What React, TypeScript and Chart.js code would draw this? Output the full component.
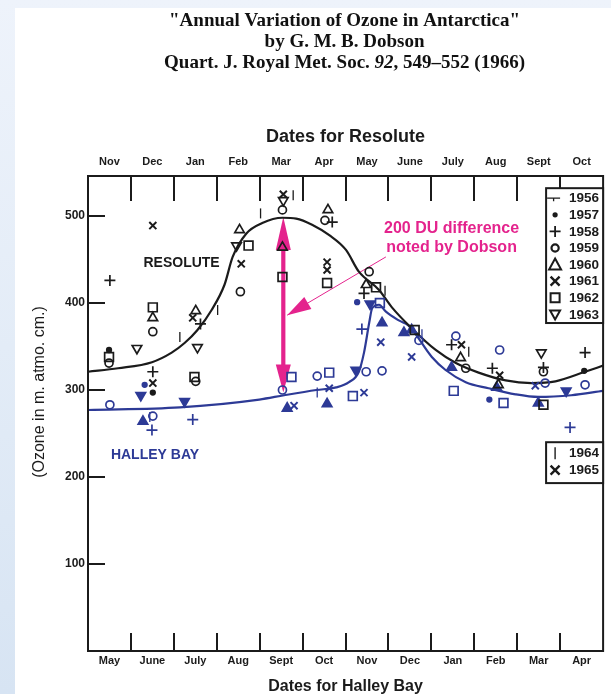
import React, { useEffect, useRef } from 'react';
import { Chart, registerables } from 'chart.js';

Chart.register(...registerables);

// ---------- axis labels ----------
const resoluteMonths = ['Nov', 'Dec', 'Jan', 'Feb', 'Mar', 'Apr', 'May', 'June', 'July', 'Aug', 'Sept', 'Oct'];
const halleyMonths = ['May', 'June', 'July', 'Aug', 'Sept', 'Oct', 'Nov', 'Dec', 'Jan', 'Feb', 'Mar', 'Apr'];
const yTickValues = [100, 200, 300, 400, 500];
const yMax = 546;
const legendYearsA = ['1956', '1957', '1958', '1959', '1960', '1961', '1962', '1963'];
const legendYearsB = ['1964', '1965'];

// ---------- smoothed mean curves (month index, ozone) ----------
const resoluteCurveX = [0, 0.7, 1.49, 1.95, 2.25, 2.55, 2.88, 3.18, 3.37, 3.69, 4.06, 4.53, 4.85, 5.22, 5.62, 6.01, 6.31, 6.78, 7.08, 7.54, 8.1, 8.57, 9.1, 9.73, 10.33, 10.89, 11.58, 12];
const resoluteCurveY = [321, 325, 332, 343, 354, 369, 392, 421, 453, 480, 492, 498, 497, 490, 478, 461, 436, 415, 395, 371, 346, 331, 320, 311, 308, 310, 321, 328];
const halleyCurveX = [0, 2.14, 3.99, 4.57, 5.32, 5.78, 6.08, 6.31, 6.43, 6.55, 6.62, 6.78, 6.94, 7.24, 7.47, 8.01, 8.33, 8.8, 9.33, 9.96, 10.49, 11.26, 12];
const halleyCurveY = [277, 280, 289, 294, 300, 303, 309, 321, 343, 377, 394, 398, 390, 380, 374, 338, 323, 309, 302, 295, 292, 294, 299];

// ---------- Resolute observations [month, ozone] ----------
const res1956: [number, number][] = [[2.14, 361], [3.02, 392], [4.02, 503], [4.78, 524], [6.92, 414], [8.87, 344]];
const res1957: [number, number][] = [[0.49, 346], [1.51, 297], [11.56, 322]];
const res1958: [number, number][] = [[0.51, 426], [1.51, 321], [2.62, 376], [5.69, 493], [6.43, 411], [8.47, 352], [9.42, 325], [10.61, 326], [11.58, 343]];
const res1959: [number, number][] = [[0.49, 331], [1.51, 367], [2.51, 310], [3.55, 413], [4.53, 507], [5.52, 495], [6.55, 436], [8.8, 325], [10.61, 321]];
const res1960: [number, number][] = [[1.51, 383], [2.51, 391], [3.53, 484], [4.53, 464], [5.59, 507], [6.48, 421], [8.68, 337], [9.56, 306]];
const res1961: [number, number][] = [[1.51, 489], [1.51, 308], [2.44, 383], [3.57, 445], [4.55, 525], [5.57, 447], [5.57, 438], [8.7, 352], [9.59, 317]];
const res1962: [number, number][] = [[0.49, 338], [1.51, 395], [2.48, 315], [3.74, 466], [4.53, 430], [5.57, 423], [6.71, 418], [7.61, 369], [10.61, 283]];
const res1963: [number, number][] = [[1.14, 348], [2.55, 349], [3.46, 466], [4.55, 518], [10.56, 343]];

// ---------- Halley Bay observations [month, ozone] ----------
const hal1957: [number, number][] = [[1.32, 306], [6.27, 401], [9.35, 289]];
const hal1958: [number, number][] = [[1.49, 254], [2.44, 266], [6.38, 370], [11.23, 257]];
const hal1959: [number, number][] = [[0.51, 283], [1.51, 270], [4.53, 300], [5.34, 316], [6.48, 321], [6.85, 322], [7.71, 357], [8.57, 362], [9.59, 346], [10.65, 308], [11.58, 306]];
const hal1960: [number, number][] = [[1.28, 264], [4.64, 279], [5.57, 284], [6.85, 377], [7.36, 366], [7.54, 369], [8.47, 326], [9.52, 303], [10.49, 285]];
const hal1962: [number, number][] = [[4.74, 315], [5.62, 320], [6.8, 400], [6.17, 293], [8.52, 299], [9.68, 285]];
const hal1963: [number, number][] = [[1.23, 294], [2.25, 287], [6.24, 323], [6.57, 399], [11.14, 299]];
const hal1964: [number, number][] = [[1.44, 269], [5.34, 297], [7.78, 364]];
const hal1965: [number, number][] = [[4.8, 282], [5.62, 302], [6.82, 355], [7.54, 338], [6.43, 297], [10.42, 305]];

// ---------- Dobson annotation (month, ozone) ----------
const dobsonArrowMonth = 4.55;
const dobsonArrowTop = 499;
const dobsonArrowBottom = 297;
const pointerFrom: [number, number] = [6.94, 453];
const pointerTo: [number, number] = [4.64, 386];

const INK = '#1b1b1b';
const BLUE = '#2d3a96';
const MAGENTA = '#e4238d';
const SANS = "'Liberation Sans', Arial, sans-serif";
const SERIF = "'Liberation Serif', 'Times New Roman', serif";

type Sym = 'bar' | 'dot' | 'plus' | 'circle' | 'tri' | 'x' | 'square' | 'invtri';

const yearSymbol: Record<string, Sym> = {
  '1956': 'bar', '1957': 'dot', '1958': 'plus', '1959': 'circle', '1960': 'tri',
  '1961': 'x', '1962': 'square', '1963': 'invtri', '1964': 'bar', '1965': 'x',
};

function pointOpts(sym: Sym, color: string, filled: boolean) {
  const base: any = { borderColor: color, pointBorderWidth: 1.7, pointBackgroundColor: 'rgba(0,0,0,0)', pointRotation: 0 };
  switch (sym) {
    case 'bar': return { ...base, pointStyle: 'line', pointRadius: 5, pointRotation: 90, pointBorderWidth: 1.3 };
    case 'dot': return { ...base, pointStyle: 'circle', pointRadius: 2.3, pointBackgroundColor: color };
    case 'plus': return { ...base, pointStyle: 'cross', pointRadius: 5.5 };
    case 'circle': return { ...base, pointStyle: 'circle', pointRadius: 4 };
    case 'tri': return { ...base, pointStyle: 'triangle', pointRadius: 5.5, pointBackgroundColor: filled ? color : 'rgba(0,0,0,0)' };
    case 'invtri': return { ...base, pointStyle: 'triangle', pointRadius: 5.5, pointRotation: 180, pointBackgroundColor: filled ? color : 'rgba(0,0,0,0)' };
    case 'x': return { ...base, pointStyle: 'crossRot', pointRadius: 5, pointBorderWidth: 2 };
    case 'square': return { ...base, pointStyle: 'rect', pointRadius: 6.2 };
  }
}

function scatterSet(label: string, pts: [number, number][], sym: Sym, color: string, filled: boolean) {
  return {
    type: 'scatter' as const,
    label,
    data: pts.map(([x, y]) => ({ x, y })),
    xAxisID: 'x',
    yAxisID: 'y',
    showLine: false,
    order: 0,
    ...pointOpts(sym, color, filled),
  };
}

function drawSymbol(ctx: CanvasRenderingContext2D, sym: Sym, x: number, y: number, color: string, legend1956 = false) {
  ctx.save();
  ctx.strokeStyle = color;
  ctx.fillStyle = color;
  ctx.lineWidth = 1.8;
  ctx.beginPath();
  switch (sym) {
    case 'bar':
      if (legend1956) {
        ctx.lineWidth = 1.3;
        ctx.moveTo(x - 8, y); ctx.lineTo(x + 5, y);
        ctx.moveTo(x - 1.5, y); ctx.lineTo(x - 1.5, y + 3);
      } else {
        ctx.lineWidth = 1.4;
        ctx.moveTo(x, y - 6); ctx.lineTo(x, y + 6);
      }
      ctx.stroke();
      break;
    case 'dot': ctx.arc(x, y, 2.6, 0, Math.PI * 2); ctx.fill(); break;
    case 'plus': ctx.moveTo(x - 5.5, y); ctx.lineTo(x + 5.5, y); ctx.moveTo(x, y - 5.5); ctx.lineTo(x, y + 5.5); ctx.stroke(); break;
    case 'circle': ctx.lineWidth = 2.2; ctx.arc(x, y, 3.6, 0, Math.PI * 2); ctx.stroke(); break;
    case 'tri': ctx.lineWidth = 2; ctx.moveTo(x, y - 6); ctx.lineTo(x + 6, y + 5); ctx.lineTo(x - 6, y + 5); ctx.closePath(); ctx.stroke(); break;
    case 'invtri': ctx.lineWidth = 2; ctx.moveTo(x - 5, y - 4); ctx.lineTo(x + 5, y - 4); ctx.lineTo(x, y + 5); ctx.closePath(); ctx.stroke(); break;
    case 'x': ctx.lineWidth = 2.4; ctx.moveTo(x - 4.5, y - 4.5); ctx.lineTo(x + 4.5, y + 4.5); ctx.moveTo(x + 4.5, y - 4.5); ctx.lineTo(x - 4.5, y + 4.5); ctx.stroke(); break;
    case 'square': ctx.lineWidth = 2; ctx.rect(x - 4.5, y - 4.5, 9, 9); ctx.stroke(); break;
  }
  ctx.restore();
}

function arrowHead(ctx: CanvasRenderingContext2D, tx: number, ty: number, fx: number, fy: number, len: number, half: number) {
  const ang = Math.atan2(ty - fy, tx - fx);
  const bx = tx - Math.cos(ang) * len;
  const by = ty - Math.sin(ang) * len;
  ctx.beginPath();
  ctx.moveTo(tx, ty);
  ctx.lineTo(bx + Math.sin(ang) * half, by - Math.cos(ang) * half);
  ctx.lineTo(bx - Math.sin(ang) * half, by + Math.cos(ang) * half);
  ctx.closePath();
  ctx.fill();
}

const decorPlugin = {
  id: 'decor',
  beforeDatasetsDraw(chart: any) {
    const { ctx, scales } = chart;
    const x = scales.x, y = scales.y;
    ctx.save();
    ctx.fillStyle = MAGENTA;
    ctx.strokeStyle = MAGENTA;
    const ax = x.getPixelForValue(dobsonArrowMonth);
    const yt = y.getPixelForValue(dobsonArrowTop);
    const yb = y.getPixelForValue(dobsonArrowBottom);
    ctx.lineWidth = 4.2;
    ctx.beginPath();
    ctx.moveTo(ax, yt + 20);
    ctx.lineTo(ax, yb - 20);
    ctx.stroke();
    arrowHead(ctx, ax, yt, ax, yb, 33, 7.5);
    arrowHead(ctx, ax, yb, ax, yt, 28, 7.5);
    const px1 = x.getPixelForValue(pointerFrom[0]), py1 = y.getPixelForValue(pointerFrom[1]);
    const px2 = x.getPixelForValue(pointerTo[0]), py2 = y.getPixelForValue(pointerTo[1]);
    ctx.lineWidth = 1;
    ctx.beginPath();
    ctx.moveTo(px1, py1);
    ctx.lineTo(px2, py2);
    ctx.stroke();
    arrowHead(ctx, px2, py2, px1, py1, 24, 7);
    ctx.restore();
  },
  afterDraw(chart: any) {
    const { ctx, chartArea: a, scales } = chart;
    const x = scales.x, y = scales.y;
    ctx.save();
    ctx.strokeStyle = INK;
    ctx.lineWidth = 2;
    ctx.strokeRect(a.left, a.top, a.right - a.left, a.bottom - a.top);
    ctx.beginPath();
    for (let m = 1; m < 12; m++) {
      const px = Math.round(x.getPixelForValue(m));
      ctx.moveTo(px, a.top);
      ctx.lineTo(px, a.top + 25);
      ctx.moveTo(px, a.bottom);
      ctx.lineTo(px, a.bottom - 18);
    }
    for (const v of yTickValues) {
      const py = Math.round(y.getPixelForValue(v));
      ctx.moveTo(a.left, py);
      ctx.lineTo(a.left + 17, py);
    }
    ctx.stroke();

    // header
    const cx = (a.left + a.right) / 2 - 1;
    ctx.fillStyle = '#111';
    ctx.textAlign = 'center';
    ctx.textBaseline = 'middle';
    const hf = `bold 19px ${SERIF}`;
    const hfi = `italic bold 19px ${SERIF}`;
    ctx.font = hf;
    ctx.fillText('"Annual Variation of Ozone in Antarctica"', cx, 13);
    ctx.fillText('by G. M. B. Dobson', cx, 34);
    const partA = 'Quart. J. Royal Met. Soc. ';
    const partB = '92';
    const partC = ', 549\u2013552 (1966)';
    ctx.font = hf;
    const wA = ctx.measureText(partA).width;
    const wC = ctx.measureText(partC).width;
    ctx.font = hfi;
    const wB = ctx.measureText(partB).width;
    const sx = cx - (wA + wB + wC) / 2;
    ctx.textAlign = 'left';
    ctx.font = hf;
    ctx.fillText(partA, sx, 55);
    ctx.font = hfi;
    ctx.fillText(partB, sx + wA, 55);
    ctx.font = hf;
    ctx.fillText(partC, sx + wA + wB, 55);

    // y axis title
    ctx.save();
    ctx.translate(25, 384);
    ctx.rotate(-Math.PI / 2);
    ctx.textAlign = 'center';
    ctx.font = `16px ${SANS}`;
    ctx.fillStyle = INK;
    ctx.fillText('(Ozone in m. atmo. cm.)', 0, 0);
    ctx.restore();

    // station labels
    ctx.textAlign = 'center';
    ctx.font = `bold 14px ${SANS}`;
    ctx.fillStyle = INK;
    ctx.fillText('RESOLUTE', x.getPixelForValue(2.18), y.getPixelForValue(446));
    ctx.fillStyle = BLUE;
    ctx.fillText('HALLEY BAY', x.getPixelForValue(1.56), y.getPixelForValue(225));
    ctx.fillStyle = MAGENTA;
    ctx.font = `bold 16px ${SANS}`;
    ctx.fillText('200 DU difference', x.getPixelForValue(8.47), y.getPixelForValue(486));
    ctx.fillText('noted by Dobson', x.getPixelForValue(8.47), y.getPixelForValue(464));

    // legend boxes
    const boxL = a.right - 57;
    const l1Top = y.getPixelForValue(532);
    const l1Bot = y.getPixelForValue(377);
    ctx.fillStyle = '#fff';
    ctx.fillRect(boxL, l1Top, a.right - boxL, l1Bot - l1Top);
    ctx.strokeStyle = INK;
    ctx.lineWidth = 2;
    ctx.strokeRect(boxL, l1Top, a.right - boxL, l1Bot - l1Top);
    ctx.font = `bold 13.5px ${SANS}`;
    ctx.textAlign = 'right';
    ctx.fillStyle = INK;
    legendYearsA.forEach((yr, i) => {
      const ly = l1Top + 10 + i * 16.6;
      drawSymbol(ctx, yearSymbol[yr], boxL + 9, ly, INK, yr === '1956');
      ctx.fillStyle = INK;
      ctx.fillText(yr, a.right - 4, ly + 0.5);
    });
    const l2Top = y.getPixelForValue(240);
    const l2Bot = y.getPixelForValue(193);
    ctx.fillStyle = '#fff';
    ctx.fillRect(boxL, l2Top, a.right - boxL, l2Bot - l2Top);
    ctx.strokeRect(boxL, l2Top, a.right - boxL, l2Bot - l2Top);
    legendYearsB.forEach((yr, i) => {
      const ly = l2Top + 11 + i * 17;
      drawSymbol(ctx, yearSymbol[yr], boxL + 9, ly, INK);
      ctx.fillStyle = INK;
      ctx.fillText(yr, a.right - 4, ly + 0.5);
    });
    ctx.restore();
  },
};

export default function App() {
  const ref = useRef<HTMLCanvasElement>(null);
  useEffect(() => {
    if (!ref.current) return;
    const datasets: any[] = [
      scatterSet('Resolute 1956', res1956, 'bar', INK, false),
      scatterSet('Resolute 1957', res1957, 'dot', INK, false),
      scatterSet('Resolute 1958', res1958, 'plus', INK, false),
      scatterSet('Resolute 1959', res1959, 'circle', INK, false),
      scatterSet('Resolute 1960', res1960, 'tri', INK, false),
      scatterSet('Resolute 1961', res1961, 'x', INK, false),
      scatterSet('Resolute 1962', res1962, 'square', INK, false),
      scatterSet('Resolute 1963', res1963, 'invtri', INK, false),
      scatterSet('Halley Bay 1957', hal1957, 'dot', BLUE, true),
      scatterSet('Halley Bay 1958', hal1958, 'plus', BLUE, true),
      scatterSet('Halley Bay 1959', hal1959, 'circle', BLUE, true),
      scatterSet('Halley Bay 1960', hal1960, 'tri', BLUE, true),
      scatterSet('Halley Bay 1962', hal1962, 'square', BLUE, true),
      scatterSet('Halley Bay 1963', hal1963, 'invtri', BLUE, true),
      scatterSet('Halley Bay 1964', hal1964, 'bar', BLUE, true),
      scatterSet('Halley Bay 1965', hal1965, 'x', BLUE, true),
      {
        type: 'line',
        label: 'Resolute mean',
        data: resoluteCurveX.map((m, i) => ({ x: m, y: resoluteCurveY[i] })),
        borderColor: INK,
        borderWidth: 2.2,
        pointRadius: 0,
        fill: false,
        cubicInterpolationMode: 'monotone',
        xAxisID: 'x',
        yAxisID: 'y',
        order: 5,
      },
      {
        type: 'line',
        label: 'Halley Bay mean',
        data: halleyCurveX.map((m, i) => ({ x: m, y: halleyCurveY[i] })),
        borderColor: BLUE,
        borderWidth: 2.2,
        pointRadius: 0,
        fill: false,
        cubicInterpolationMode: 'monotone',
        xAxisID: 'x',
        yAxisID: 'y',
        order: 5,
      },
    ];
    const monthFont = { family: SANS, size: 11, weight: 'bold' as const };
    const chart = new Chart(ref.current, {
      type: 'scatter',
      data: { datasets },
      options: {
        animation: false,
        responsive: false,
        maintainAspectRatio: false,
        layout: { padding: { left: 0, right: 6, top: 118, bottom: 0 } },
        plugins: { legend: { display: false }, tooltip: { enabled: false }, title: { display: false } },
        scales: {
          x: { type: 'linear', min: 0, max: 12, display: false },
          xTop: {
            type: 'category',
            labels: resoluteMonths,
            position: 'top',
            offset: true,
            grid: { display: false, drawTicks: false },
            border: { display: false },
            ticks: { font: monthFont, color: INK, padding: 7, maxRotation: 0, autoSkip: false },
            title: { display: true, text: 'Dates for Resolute', font: { family: SANS, size: 18, weight: 'bold' }, color: INK, padding: { top: 0, bottom: 0 } },
            afterFit: (s: any) => { s.height = 50; },
          },
          xBottom: {
            type: 'category',
            labels: halleyMonths,
            position: 'bottom',
            offset: true,
            grid: { display: false, drawTicks: false },
            border: { display: false },
            ticks: { font: monthFont, color: INK, padding: 3, maxRotation: 0, autoSkip: false },
            title: { display: true, text: 'Dates for Halley Bay', font: { family: SANS, size: 16, weight: 'bold' }, color: INK, padding: { top: 0, bottom: 2 } },
            afterFit: (s: any) => { s.height = 47; },
          },
          y: {
            type: 'linear',
            min: 0,
            max: yMax,
            position: 'left',
            grid: { display: false, drawTicks: false },
            border: { display: false },
            afterBuildTicks: (s: any) => { s.ticks = yTickValues.map((v) => ({ value: v })); },
            ticks: { font: { family: SANS, size: 12, weight: 'bold' }, color: INK, padding: 3 },
            afterFit: (s: any) => { s.width = 73; },
          },
        },
      } as any,
      plugins: [decorPlugin],
    });
    return () => chart.destroy();
  }, []);

  return (
    <div style={{ position: 'absolute', left: 0, top: 0, width: 611, height: 694, overflow: 'hidden', background: 'linear-gradient(180deg, #eef3fb 0%, #e3ecf7 50%, #d7e4f3 100%)' }}>
      <div style={{ position: 'absolute', left: 15, top: 8, width: 596, height: 686, background: '#ffffff', overflow: 'hidden' }}>
        <canvas ref={ref} width={596} height={690} style={{ display: 'block', width: 596, height: 690 }} />
      </div>
    </div>
  );
}
